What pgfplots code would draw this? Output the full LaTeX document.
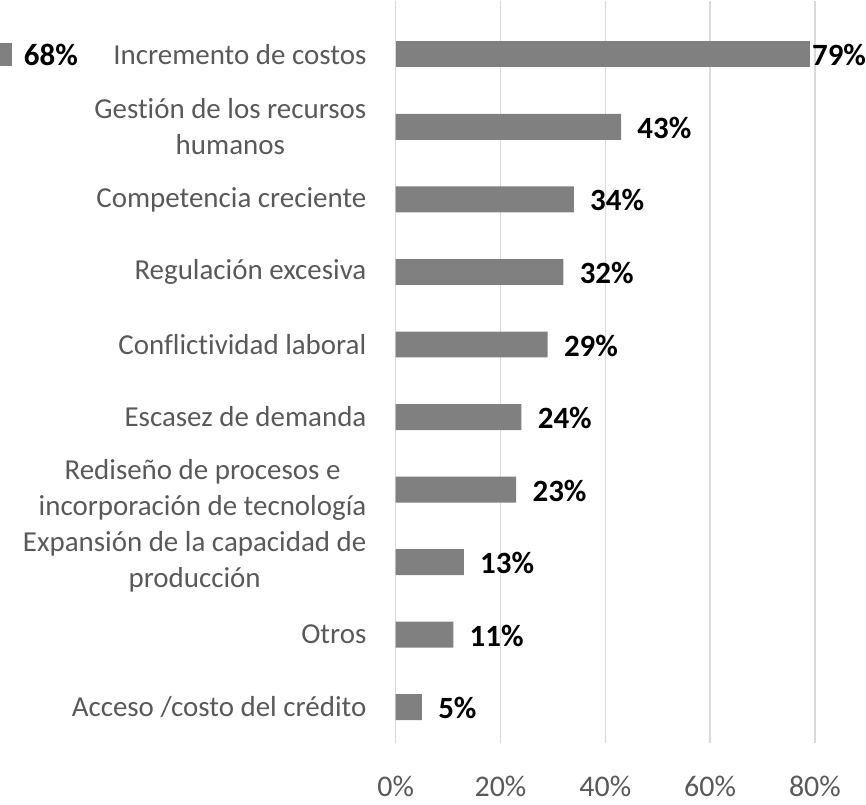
\documentclass[border=0pt]{standalone}
\usepackage{fontspec}
\setmainfont{Carlito}[Ligatures=NoCommon]
\usepackage{pgfplots}
\pgfplotsset{compat=1.18}
\definecolor{barcol}{HTML}{808080}
\definecolor{gridcol}{HTML}{D9D9D9}
\definecolor{txtcol}{HTML}{595959}
\begin{document}
\begin{tikzpicture}
\begin{axis}[
  scale only axis,
  width=210pt, height=372pt,
  xbar, bar width=13pt, bar shift=0pt,
  xmin=0, xmax=80, ymin=-0.5, ymax=9.74,
  clip=false,
  axis line style={draw=none},
  major tick length=0pt,
  xmajorgrids, grid style={line width=0.75pt, color=gridcol},
  xtick={0,20,40,60,80},
  xticklabel={\pgfmathprintnumber{\tick}\%},
  /pgf/number format/assume math mode=true,
  xticklabel style={font=\fontsize{15}{18}\selectfont, text=txtcol, inner xsep=0pt, inner ysep=4pt, yshift=-12pt},
  ytick={0,1,2,3,4,5,6,7,8,9},
  yticklabels={
    {Acceso /costo del crédito},
    {Otros},
    {Expansión de la capacidad de\\producción},
    {Rediseño de procesos e\\incorporación de tecnología},
    {Escasez de demanda},
    {Conflictividad laboral},
    {Regulación excesiva},
    {Competencia creciente},
    {Gestión de los recursos\\humanos},
    {Incremento de costos}},
  yticklabel style={font=\fontsize{14.5}{18}\selectfont, text=txtcol, align=center, inner sep=0pt, xshift=-14.5pt},
  nodes near coords={\pgfmathprintnumber{\pgfplotspointmeta}\%},
  nodes near coords style={font=\fontsize{15.5}{18}\selectfont\bfseries, text=black, anchor=west, inner sep=0pt, xshift=8pt, yshift=-0.5pt},
  legend style={at={(axis cs:0,9)}, anchor=east, xshift=-159pt, yshift=-0.8pt, draw=none, fill=none, inner sep=0pt,
    column sep=6pt, nodes={inner sep=0pt, font=\fontsize{15.5}{18}\selectfont\bfseries}},
  legend image code/.code={\fill[barcol] (0pt,-5pt) rectangle (6pt,6.5pt);},
]
\addplot[fill=barcol, draw=none, forget plot] coordinates {
  (5,0) (11,1) (13,2) (23,3) (24,4) (29,5) (32,6) (34,7) (43,8)
};
\addplot[fill=barcol, draw=none, forget plot, nodes near coords style={xshift=-7pt}] coordinates {
  (79,9)
};
\addlegendimage{fill=barcol, draw=none}
\addlegendentry{68\%}
\end{axis}
\end{tikzpicture}
\end{document}
